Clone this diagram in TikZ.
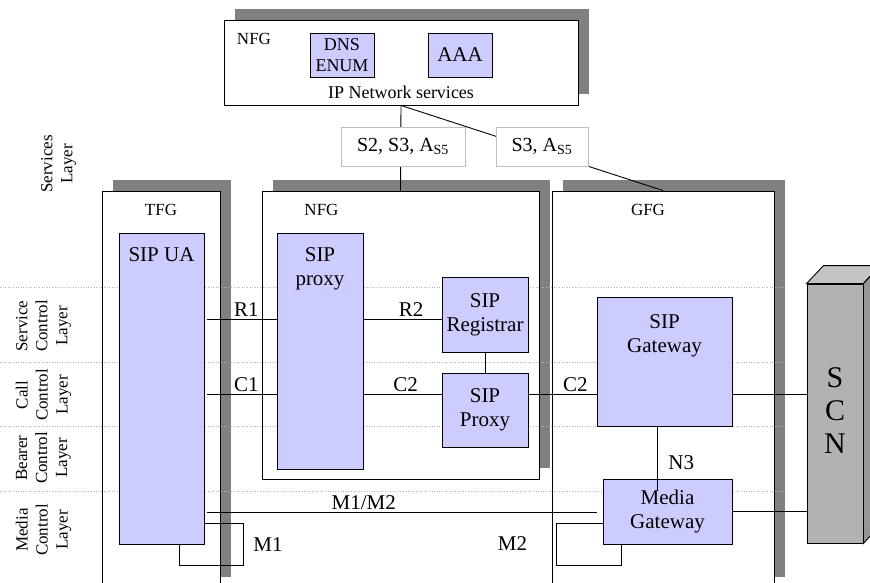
\documentclass[tikz,border=0pt]{standalone}
\usepackage{fontspec}
\setmainfont{Liberation Serif}
\usetikzlibrary{positioning,shadows}

\definecolor{sipblue}{RGB}{204,204,255}
\definecolor{ombra}{RGB}{128,128,128}
\definecolor{scnfront}{RGB}{178,178,178}
\definecolor{scntop}{RGB}{196,196,196}
\definecolor{scnside}{RGB}{150,150,150}

\begin{document}
\begin{tikzpicture}[x=1pt, y=-1pt, line width=0.9pt,
  frame/.style={draw, fill=white, inner sep=0pt,
    drop shadow={shadow xshift=11pt, shadow yshift=11pt, opacity=1, fill=ombra}},
  sipbox/.style={draw, fill=sipblue, inner sep=0pt, align=center,
    font=\fontsize{21}{24}\selectfont},
  boxtext/.style={inner sep=2pt, align=center, font=\fontsize{21}{24}\selectfont},
  fglabel/.style={font=\fontsize{17}{20}\selectfont},
  layer/.style={rotate=90, align=center, font=\fontsize{17}{20}\selectfont},
  layerline/.style={line width=0.6pt, dotted, black!30},
  connlabel/.style={inner sep=2pt, font=\fontsize{21}{24}\selectfont},
  ifbox/.style={draw=black!25, fill=white, inner sep=0pt, minimum height=39pt,
    font=\fontsize{20}{23}\selectfont}]
  \useasboundingbox (0,0) rectangle (870,583);
  \clip (0,0) rectangle (870,583);

  % Cornici
  \node[frame, minimum width=354pt, minimum height=85pt] (nfgtop) at (401,62.5) {};
  \node[frame, minimum width=118pt, minimum height=397pt] (tfg) at (161,389.5) {};
  \node[frame, minimum width=277pt, minimum height=288pt] (nfg) at (400.5,335) {};
  \node[frame, minimum width=222pt, minimum height=397pt] (gfg) at (663,389.5) {};

  % Livelli
  \foreach \y in {287,362,426,491}
    \draw[layerline] (0,\y) -- (785,\y);
  \node[layer] (lyservices) at (58.5,164) {Services\\Layer};
  \node[layer] (lyservice) at (43.5,326) {Service\\Control\\Layer};
  \node[layer] (lycall) at (43.5,395) {Call\\Control\\Layer};
  \node[layer] (lybearer) at (43.5,458) {Bearer\\Control\\Layer};
  \node[layer] (lymedia) at (43.5,530) {Media\\Control\\Layer};

  % Etichette dei gruppi
  \node[fglabel] (lblnfgtop) at (254,39) {NFG};
  \node[fglabel, font=\fontsize{18}{21}\selectfont] (ipnet) at (401,92) {IP Network services};
  \node[fglabel] (lbltfg) at (161,210) {TFG};
  \node[fglabel] (lblnfg) at (321.5,210) {NFG};
  \node[fglabel] (lblgfg) at (648,210) {GFG};

  % Blocchi
  \node[sipbox, minimum width=64pt, minimum height=44pt,
    font=\fontsize{18}{21}\selectfont] (dns) at (342,55) {DNS\\ENUM};
  \node[sipbox, minimum width=64pt, minimum height=44pt] (aaa) at (460,55) {AAA};
  \node[sipbox, minimum width=85pt, minimum height=311pt] (ua) at (161.5,388.5) {};
  \node[boxtext, below=13pt of ua.north] (uatext) {SIP UA};
  \node[sipbox, minimum width=86pt, minimum height=236pt] (proxy) at (320,351) {};
  \node[boxtext, below=13pt of proxy.north] (proxytext) {SIP\\proxy};
  \node[sipbox, minimum width=86pt, minimum height=75pt] (registrar) at (485,314.5) {SIP\\Registrar};
  \node[sipbox, minimum width=86pt, minimum height=74pt] (sipproxy) at (485,410) {SIP\\Proxy};
  \node[sipbox, minimum width=135pt, minimum height=129pt] (sipgw) at (664.5,361.5) {};
  \node[boxtext, below=16pt of sipgw.north] (sipgwtext) {SIP\\Gateway};
  \node[sipbox, minimum width=129pt, minimum height=65pt] (mgw) at (667.5,511.5) {Media\\Gateway};

  % SCN
  \node[draw, fill=scnfront, minimum width=56pt, minimum height=259pt] (scn) at (835,413.5) {};
  \node[align=center, inner sep=0pt, font=\fontsize{30}{33}\selectfont, yshift=3pt]
    (scntext) at (scn.center) {S\\C\\N};
  \draw[fill=scntop] (scn.north west) -- ++(17,-18) -- ++(56,0) -- (scn.north east) -- cycle;
  \draw[fill=scnside] (scn.north east) -- ++(17,-18) -- ++(0,259) -- (scn.south east) -- cycle;

  % Righe dei collegamenti
  \coordinate (rigaR) at (0,319);
  \coordinate (rigaC) at (0,394);
  \coordinate (rigaM) at (0,512);

  % Collegamenti
  \draw (nfgtop.south) -- (nfg.north);
  \draw (nfgtop.south) -- (gfg.north);
  \draw[shorten <=3pt] (ua.east |- rigaR) -- node[connlabel, above, pos=0.58] (lblr1) {R1} (proxy.west |- rigaR);
  \draw[shorten <=3pt] (ua.east |- rigaC) -- node[connlabel, above, pos=0.58] (lblc1) {C1} (proxy.west |- rigaC);
  \draw (proxy.east |- rigaR) -- node[connlabel, above, pos=0.61] (lblr2) {R2} (registrar.west |- rigaR);
  \draw (proxy.east |- rigaC) -- node[connlabel, above, pos=0.54] (lblc2a) {C2} (sipproxy.west |- rigaC);
  \draw (registrar.south) -- (sipproxy.north);
  \draw (sipproxy.east |- rigaC) -- node[connlabel, above, pos=0.69] (lblc2b) {C2} (sipgw.west |- rigaC);
  \draw (sipgw.east |- rigaC) -- (scn.west |- rigaC);
  \draw ([xshift=-7.5pt]sipgw.south) -- node[connlabel, right=9pt, pos=0.58] (lbln3) {N3}
    ([xshift=-10.5pt,yshift=-11pt]mgw.north);
  \draw[shorten <=3pt, shorten >=6pt] (ua.east |- rigaM) -- node[connlabel, above, pos=0.40] (lblm12) {M1/M2} (mgw.west |- rigaM);
  \draw (mgw.east) -- (scn.west |- mgw.east);

  % Anelli M1 e M2
  \draw ([xshift=17.5pt]ua.south) |- ++(64,21)
    |- node[connlabel, right=8pt, pos=0.25] (lblm1) {M1} ([yshift=21pt]ua.south east);
  \draw ([yshift=-11.5pt]mgw.west) -| node[connlabel, left=27pt, pos=0.75] (lblm2) {M2} ++(-46,42)
    -| ([xshift=-46.5pt]mgw.south);

  % Interfacce verso i servizi
  \node[ifbox, minimum width=124pt] (if1) at (403,146.5) {S2, S3, A\textsubscript{S5}};
  \node[ifbox, minimum width=92pt] (if2) at (542,146.5) {S3, A\textsubscript{S5}};
\end{tikzpicture}
\end{document}
